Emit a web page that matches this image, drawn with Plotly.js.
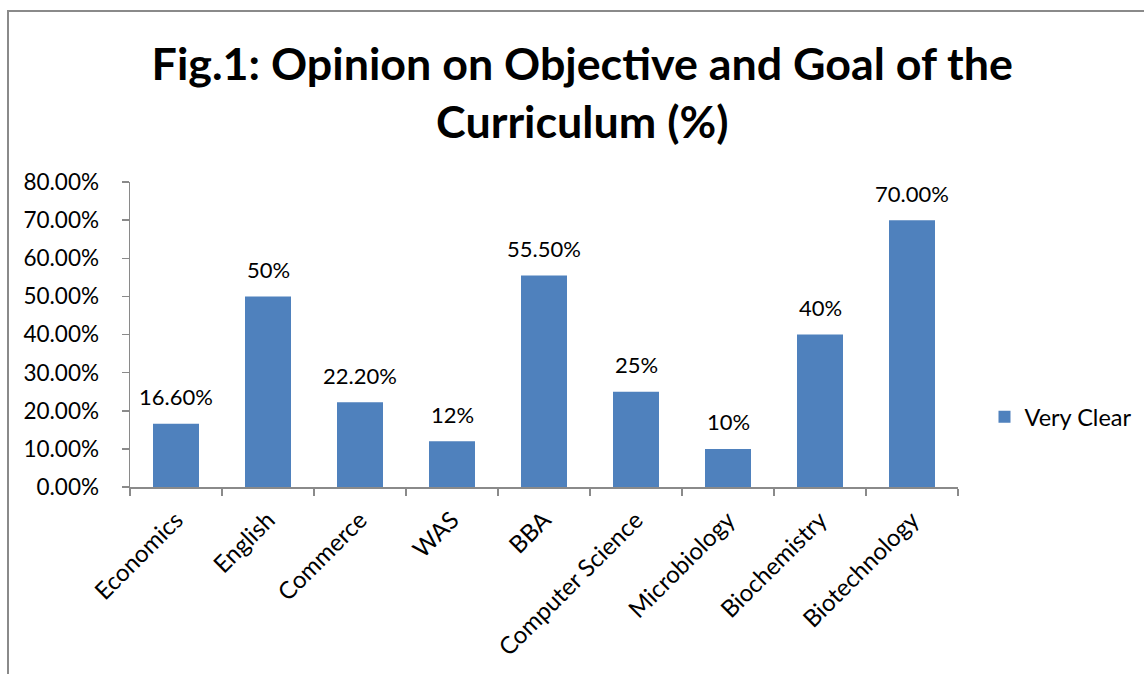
<!DOCTYPE html>
<html><head><meta charset="utf-8">
<script src="https://cdn.plot.ly/plotly-3.0.1.min.js"></script>
<style>
html,body{margin:0;padding:0;background:#fff;}
#wrap{position:relative;width:1144px;height:674px;}
#chart{position:absolute;left:0;top:0;width:1144px;height:674px;}
#frame{position:absolute;left:7px;top:10px;width:1137px;height:664px;border-left:2px solid #8a8a8a;border-top:2px solid #8a8a8a;pointer-events:none;}
</style></head>
<body>
<div id="wrap"><div id="chart"></div><div id="frame"></div></div>
<script>
const categories = ["Economics","English","Commerce","WAS","BBA","Computer Science","Microbiology","Biochemistry","Biotechnology"];
const veryClear = [0.166, 0.50, 0.222, 0.12, 0.555, 0.25, 0.10, 0.40, 0.70];
const labels = ["16.60%","50%","22.20%","12%","55.50%","25%","10%","40%","70.00%"];
const seriesName = "Very Clear";
const titleText = "Fig.1: Opinion on Objective and Goal of the<br>Curriculum (%)";

const font = "Lato, 'Open Sans', sans-serif";
const annotations = categories.map((c, i) => ({
  x: c, y: veryClear[i], xref: "x", yref: "y",
  text: labels[i], showarrow: false,
  yanchor: "middle", yshift: 27,
  font: {family: font, size: 22, color: "#000"}
}));
Plotly.newPlot("chart", [{
  type: "bar",
  x: categories,
  y: veryClear,
  name: seriesName,
  marker: {color: "#4F81BD"},
  showlegend: true,
  hoverinfo: "x+y"
}], {
  width: 1144, height: 674,
  margin: {l: 130, r: 186, t: 182, b: 187, autoexpand: false},
  paper_bgcolor: "#fff", plot_bgcolor: "#fff",
  bargap: 0.5,
  annotations: annotations,
  title: {text: titleText, font: {family: font, size: 44.8, color: "#000", weight: "bold"}, x: 0.509, xanchor: "center", yref: "container", y: 0.881, yanchor: "middle"},
  font: {family: font, color: "#000"},
  xaxis: {
    type: "category",
    tickangle: -45,
    tickson: "boundaries",
    ticks: "outside", ticklen: 7, tickcolor: "#8a8a8a", tickwidth: 1.5,
    ticklabelstandoff: 8,
    showline: true, linecolor: "#8a8a8a", linewidth: 1.5,
    showgrid: false,
    tickfont: {family: font, size: 24, color: "#000"}
  },
  yaxis: {
    range: [0, 0.8],
    dtick: 0.1,
    tickformat: ".2%",
    ticks: "outside", ticklen: 7, tickcolor: "#8a8a8a", tickwidth: 1.5,
    ticklabelstandoff: 18,
    showline: true, linecolor: "#8a8a8a", linewidth: 1.5,
    showgrid: false, zeroline: false,
    tickfont: {family: font, size: 22.5, color: "#000"}
  },
  legend: {x: 1.032, xanchor: "left", y: 0.23, yanchor: "middle", font: {family: font, size: 23.5, color: "#000"}, itemwidth: 30}
}, {staticPlot: true});
</script>
</body></html>
